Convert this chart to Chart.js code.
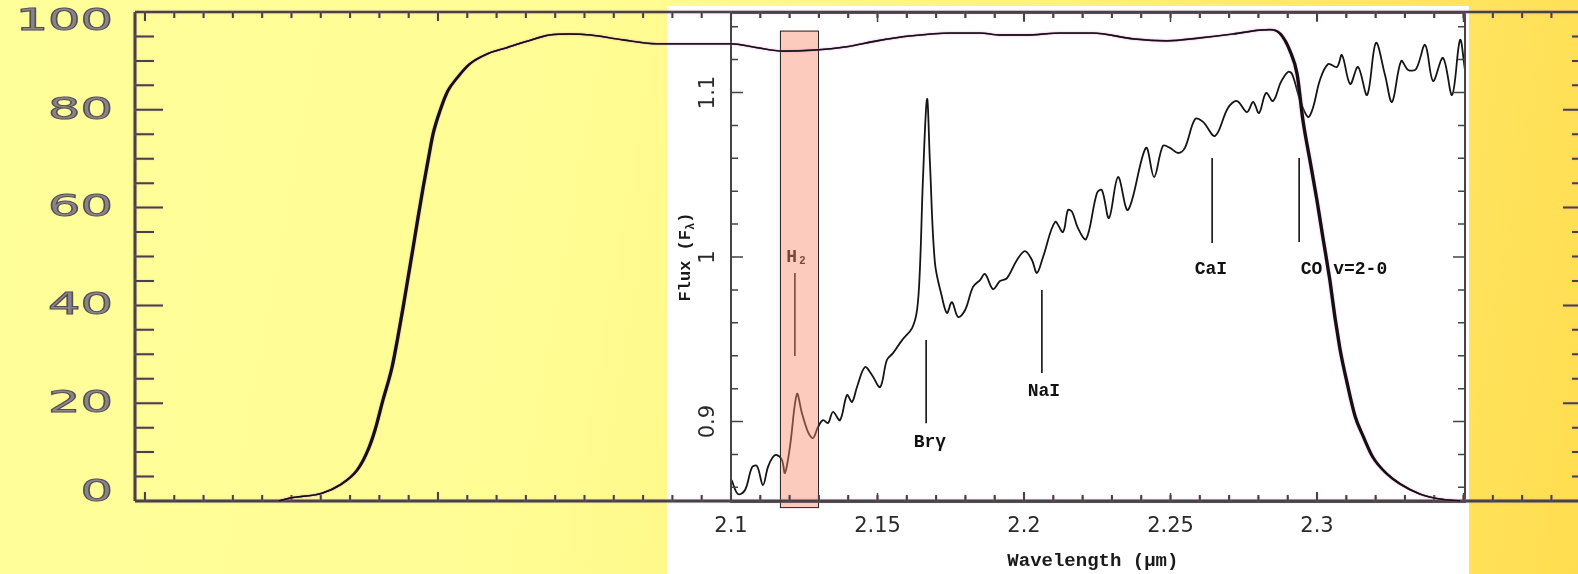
<!DOCTYPE html>
<html>
<head>
<meta charset="utf-8">
<script src="https://cdn.jsdelivr.net/npm/chart.js@4.4.1/dist/chart.umd.min.js"></script>
<style>
  html, body { margin: 0; padding: 0; width: 1578px; height: 574px; overflow: hidden; }
  #fundo { position: absolute; left: 0; top: 0; width: 1578px; height: 574px;
    background: linear-gradient(100deg, #ffff9a 0%, #fffd94 35%, #fff27c 62%, #ffe766 82%, #ffdd50 100%); }
  #painel { position: absolute; left: 667px; top: 6px; width: 802px; height: 568px; background: #fff; }
  #espectro { position: absolute; left: 667px; top: 6px; }
  #filtro { position: absolute; left: 0; top: 0; }
</style>
</head>
<body>
<div id="fundo"></div>
<div id="painel"></div>
<canvas id="espectro" width="802" height="568"></canvas>
<canvas id="filtro" width="1600" height="574"></canvas>
<script>
// curva de transmissao do filtro: comprimento de onda (um) e transmissao (%)
const filtroLambda = [1.9457, 1.9495, 1.9604, 1.9666, 1.9724, 1.9761, 1.9785, 1.9812, 1.9843, 1.9863,
  1.9881, 1.9898, 1.9915, 1.9932, 1.9949, 1.9966, 1.9983, 2.0007, 2.0034, 2.0065,
  2.0109, 2.0167, 2.0235, 2.0304, 2.0382, 2.0451, 2.0519, 2.0631, 2.0747, 2.0870,
  2.1000, 2.1089, 2.1177, 2.1280, 2.1396, 2.1498, 2.1611, 2.1747, 2.1850, 2.1918,
  2.2010, 2.2123, 2.2235, 2.2372, 2.2488, 2.2601, 2.2713, 2.2805, 2.2840, 2.2874,
  2.2908, 2.2932, 2.2952, 2.2976, 2.3000, 2.3020, 2.3044, 2.3061, 2.3078, 2.3102,
  2.3130, 2.3157, 2.3191, 2.3239, 2.3283, 2.3352, 2.3420, 2.3488];
const filtroTransm = [0, 0.6, 1.6, 3.3, 6.3, 10.4, 14.5, 20.6, 27.3, 33.5,
  39.6, 45.7, 51.8, 58.0, 64.0, 69.6, 75.0, 79.8, 83.9, 86.5,
  89.4, 91.4, 92.7, 94.0, 95.3, 95.5, 95.3, 94.3, 93.5, 93.5,
  93.5, 92.7, 92.0, 92.2, 92.9, 94.1, 95.1, 95.7, 95.7, 95.3,
  95.3, 95.7, 95.7, 94.5, 94.1, 94.7, 95.5, 96.3, 96.4, 95.6,
  92.0, 87.3, 77.8, 69.6, 61.4, 53.9, 45.1, 37.6, 31.2, 24.3,
  17.3, 13.3, 8.9, 5.5, 3.5, 1.4, 0.4, 0];
const filtroRotulosY = [0, 20, 40, 60, 80, 100];

// espectro: comprimento de onda (um) e fluxo normalizado
const espLambda = [2.1002, 2.1024, 2.1048, 2.1072, 2.1089, 2.1109, 2.1126, 2.1143, 2.1157, 2.1174,
  2.1184, 2.1201, 2.1225, 2.1242, 2.1263, 2.1280, 2.1297, 2.1314, 2.1331, 2.1348,
  2.1372, 2.1396, 2.1413, 2.1430, 2.1457, 2.1481, 2.1509, 2.1532, 2.1553, 2.1584,
  2.1618, 2.1635, 2.1645, 2.1655, 2.1669, 2.1679, 2.1696, 2.1720, 2.1737, 2.1754,
  2.1775, 2.1799, 2.1826, 2.1850, 2.1867, 2.1894, 2.1918, 2.1942, 2.1976, 2.2003,
  2.2027, 2.2044, 2.2065, 2.2106, 2.2133, 2.2150, 2.2164, 2.2184, 2.2212, 2.2249,
  2.2266, 2.2290, 2.2321, 2.2355, 2.2416, 2.2444, 2.2474, 2.2498, 2.2526, 2.2549,
  2.2584, 2.2611, 2.2652, 2.2696, 2.2727, 2.2761, 2.2782, 2.2802, 2.2826, 2.2850,
  2.2877, 2.2901, 2.2915, 2.2942, 2.2969, 2.2986, 2.3010, 2.3038, 2.3068, 2.3085,
  2.3113, 2.3140, 2.3171, 2.3201, 2.3232, 2.3256, 2.3287, 2.3311, 2.3338, 2.3369,
  2.3396, 2.3430, 2.3461, 2.3488, 2.3505];
const espFluxo = [0.8644, 0.8559, 0.8584, 0.8723, 0.8729, 0.8614, 0.8723, 0.8784, 0.8796, 0.8766,
  0.8687, 0.8845, 0.9167, 0.9052, 0.8936, 0.8900, 0.8967, 0.9009, 0.8991, 0.9058,
  0.9009, 0.9161, 0.9119, 0.9210, 0.9331, 0.9283, 0.9210, 0.9374, 0.9416, 0.9495,
  0.9568, 0.9678, 0.9939, 1.0468, 1.0960, 1.0571, 0.9964, 0.9757, 0.9660, 0.9726,
  0.9635, 0.9678, 0.9818, 0.9860, 0.9897, 0.9805, 0.9854, 0.9872, 0.9982, 1.0036,
  0.9982, 0.9903, 1.0000, 1.0213, 1.0152, 1.0286, 1.0274, 1.0176, 1.0109, 1.0389,
  1.0407, 1.0237, 1.0486, 1.0286, 1.0663, 1.0486, 1.0675, 1.0663, 1.0632, 1.0663,
  1.0839, 1.0821, 1.0736, 1.0906, 1.0948, 1.0881, 1.0942, 1.0875, 1.0997, 1.0948,
  1.1064, 1.1125, 1.1112, 1.0954, 1.0851, 1.0906, 1.1076, 1.1173, 1.1155, 1.1228,
  1.1052, 1.1155, 1.0985, 1.1301, 1.1106, 1.0942, 1.1191, 1.1137, 1.1143, 1.1289,
  1.1070, 1.1210, 1.0985, 1.1319, 1.1137];
const espRotulosX = [2.1, 2.15, 2.2, 2.25, 2.3];
const espRotulosY = [0.9, 1, 1.1];

// linhas espectrais marcadas
const linhaNomes = ['H₂', 'Brγ', 'NaI', 'CaI', 'CO v=2-0'];
const linhaLambda = [2.1218, 2.1666, 2.2061, 2.2642, 2.2939];
const linhaTopo = [0.9903, 0.9495, 0.9800, 1.0602, 1.0602];
const linhaBase = [0.9398, 0.8990, 0.9295, 1.0085, 1.0091];
const rotuloLambda = [2.1225, 2.1679, 2.2068, 2.2638, 2.3092];
const rotuloFluxo = [1.0000, 0.8875, 0.9180, 0.9927, 0.9927];

// faixa do filtro estreito de H2
const faixaLambda = [2.1167, 2.1297];
const faixaFluxo = [0.848, 1.1376];

const pontos = (xs, ys) => xs.map((x, i) => ({ x, y: ys[i] }));

// eixos, marcas e rotulos do espectro
const eixosEspectro = {
  id: 'eixosEspectro',
  afterDatasetsDraw(chart) {
    const { ctx, chartArea: a, scales: { x, y } } = chart;
    ctx.save();

    // linhas e nomes
    ctx.strokeStyle = '#111';
    ctx.fillStyle = '#111';
    ctx.lineWidth = 1.6;
    ctx.font = 'bold 18px "Liberation Mono", "DejaVu Sans Mono"';
    ctx.textAlign = 'center';
    ctx.textBaseline = 'middle';
    linhaNomes.forEach((nome, i) => {
      const px = x.getPixelForValue(linhaLambda[i]);
      ctx.beginPath();
      ctx.moveTo(px, y.getPixelForValue(linhaTopo[i]));
      ctx.lineTo(px, y.getPixelForValue(linhaBase[i]));
      ctx.stroke();
      ctx.fillText(nome, x.getPixelForValue(rotuloLambda[i]), y.getPixelForValue(rotuloFluxo[i]));
    });

    // moldura e marcas
    ctx.strokeStyle = '#444';
    ctx.lineWidth = 2;
    ctx.strokeRect(a.left, a.top, a.right - a.left, a.bottom - a.top);
    ctx.lineWidth = 1.5;
    ctx.beginPath();
    for (let v = 210; v <= 235; v++) {
      const px = x.getPixelForValue(v / 100);
      const t = v % 5 === 0 ? 9 : 5;
      ctx.moveTo(px, a.bottom); ctx.lineTo(px, a.bottom - t);
      ctx.moveTo(px, a.top); ctx.lineTo(px, a.top + t);
    }
    for (let v = 86; v <= 114; v += 2) {
      const py = y.getPixelForValue(v / 100);
      const t = v % 10 === 0 ? 12 : 7;
      ctx.moveTo(a.left, py); ctx.lineTo(a.left + t, py);
      ctx.moveTo(a.right, py); ctx.lineTo(a.right - t, py);
    }
    ctx.stroke();

    // rotulos dos eixos
    ctx.fillStyle = '#2a2a2a';
    ctx.font = '21px "DejaVu Sans"';
    espRotulosX.forEach(v => ctx.fillText(String(v), x.getPixelForValue(v), a.bottom + 25));
    espRotulosY.forEach(v => {
      ctx.save();
      ctx.translate(a.left - 22, y.getPixelForValue(v));
      ctx.rotate(-Math.PI / 2);
      ctx.fillText(String(v), 0, 0);
      ctx.restore();
    });

    ctx.fillStyle = '#1a1a1a';
    ctx.font = 'bold 19px "Liberation Mono", "DejaVu Sans Mono"';
    ctx.fillText('Wavelength (μm)', x.getPixelForValue(2.2235), a.bottom + 59);

    // titulo vertical com indice
    ctx.save();
    ctx.translate(a.left - 45, y.getPixelForValue(1));
    ctx.rotate(-Math.PI / 2);
    ctx.textAlign = 'left';
    const grande = 'bold 17px "Liberation Mono", "DejaVu Sans Mono"';
    const pequeno = 'bold 12px "Liberation Mono", "DejaVu Sans Mono"';
    ctx.font = grande;
    const w1 = ctx.measureText('Flux (F').width, w3 = ctx.measureText(')').width;
    ctx.font = pequeno;
    const w2 = ctx.measureText('λ').width;
    let sx = -(w1 + w2 + w3) / 2;
    ctx.font = grande; ctx.fillText('Flux (F', sx, 0); sx += w1;
    ctx.font = pequeno; ctx.fillText('λ', sx, 5); sx += w2;
    ctx.font = grande; ctx.fillText(')', sx, 0);
    ctx.restore();

    // faixa de H2 por cima
    const fx1 = x.getPixelForValue(faixaLambda[0]), fx2 = x.getPixelForValue(faixaLambda[1]);
    const fy1 = y.getPixelForValue(faixaFluxo[1]), fy2 = y.getPixelForValue(faixaFluxo[0]);
    ctx.fillStyle = 'rgba(248, 140, 108, 0.45)';
    ctx.fillRect(fx1, fy1, fx2 - fx1, fy2 - fy1);
    ctx.strokeStyle = '#222';
    ctx.lineWidth = 1;
    ctx.strokeRect(fx1 + 0.5, fy1 + 0.5, fx2 - fx1, fy2 - fy1);
    ctx.restore();
  }
};

new Chart(document.getElementById('espectro'), {
  type: 'line',
  data: {
    datasets: [{
      data: pontos(espLambda, espFluxo),
      borderColor: '#151515',
      borderWidth: 1.8,
      pointRadius: 0,
      tension: 0.35,
      fill: false
    }]
  },
  options: {
    responsive: false,
    animation: false,
    events: [],
    layout: { padding: { left: 64, top: 7, right: 4, bottom: 72 } },
    scales: {
      x: { type: 'linear', min: 2.1, max: 2.3505, display: false },
      y: { min: 0.8511, max: 1.1483, display: false }
    },
    plugins: { legend: { display: false }, tooltip: { enabled: false } }
  },
  plugins: [eixosEspectro]
});

// eixos do grafico do filtro (com o halo rosado do original)
const eixosFiltro = {
  id: 'eixosFiltro',
  beforeDatasetsDraw(chart) {
    const { ctx, chartArea: a, scales: { x, y } } = chart;
    ctx.save();
    ctx.shadowColor = 'rgba(240, 140, 215, 0.55)';
    ctx.shadowBlur = 2;
    ctx.strokeStyle = '#444';
    ctx.lineWidth = 3;
    ctx.beginPath();
    ctx.moveTo(a.left, a.top); ctx.lineTo(a.left, a.bottom);
    ctx.moveTo(a.left, a.bottom); ctx.lineTo(a.right, a.bottom);
    ctx.moveTo(a.right, a.top); ctx.lineTo(a.right, a.bottom);
    ctx.stroke();
    ctx.lineWidth = 2.5;
    ctx.beginPath();
    ctx.moveTo(a.left, a.top); ctx.lineTo(a.right, a.top);
    ctx.stroke();

    ctx.lineWidth = 2;
    ctx.beginPath();
    for (let v = 190; v <= 239; v++) {
      const px = x.getPixelForValue(v / 100);
      const t = v % 10 === 0 ? 9 : 6;
      ctx.moveTo(px, a.bottom); ctx.lineTo(px, a.bottom - t);
      ctx.moveTo(px, a.top); ctx.lineTo(px, a.top + t);
    }
    for (let v = 5; v < 100; v += 5) {
      const py = y.getPixelForValue(v);
      const t = v % 20 === 0 ? 28 : 19;
      ctx.moveTo(a.left, py); ctx.lineTo(a.left + t, py);
      ctx.moveTo(a.right, py); ctx.lineTo(a.right - t, py);
    }
    ctx.stroke();

    ctx.shadowColor = 'rgba(240, 160, 220, 0.5)';
    ctx.shadowBlur = 1;
    ctx.font = '30px "DejaVu Sans"';
    ctx.textAlign = 'right';
    ctx.textBaseline = 'middle';
    ctx.fillStyle = '#858585';
    ctx.strokeStyle = '#505050';
    ctx.lineWidth = 1;
    filtroRotulosY.forEach(v => {
      let py = y.getPixelForValue(v) + 1;
      py = Math.min(Math.max(py, a.top + 10), a.bottom - 8);
      ctx.save();
      ctx.translate(a.left - 22, py);
      ctx.scale(1.7, 1);
      ctx.fillText(String(v), 0, 0);
      ctx.strokeText(String(v), 0, 0);
      ctx.restore();
    });
    ctx.restore();

    ctx.save();
    ctx.shadowColor = 'rgba(240, 140, 215, 0.6)';
    ctx.shadowBlur = 2;
  },
  afterDatasetsDraw(chart) {
    // a curva original foi esticada na horizontal: reforca o traco com caneta eliptica
    const { ctx } = chart;
    const pts = chart.getDatasetMeta(0).data;
    ctx.beginPath();
    pts.forEach((p, i) => {
      if (i === 0) { ctx.moveTo(p.x, p.y); return; }
      const q = pts[i - 1];
      ctx.bezierCurveTo(q.cp2x, q.cp2y, p.cp1x, p.cp1y, p.x, p.y);
    });
    ctx.setTransform(2.6, 0, 0, 1, 0, 0);
    ctx.lineWidth = 1.3;
    ctx.strokeStyle = '#111';
    ctx.stroke();
    ctx.restore();
  }
};

new Chart(document.getElementById('filtro'), {
  type: 'line',
  data: {
    datasets: [{
      data: pontos(filtroLambda, filtroTransm),
      borderColor: '#111',
      borderWidth: 1.6,
      pointRadius: 0,
      cubicInterpolationMode: 'monotone',
      fill: false
    }]
  },
  options: {
    responsive: false,
    animation: false,
    events: [],
    layout: { padding: { left: 135, top: 12, right: 9, bottom: 73 } },
    scales: {
      x: { type: 'linear', min: 1.8966, max: 2.3935, display: false },
      y: { min: 0, max: 100, display: false }
    },
    plugins: { legend: { display: false }, tooltip: { enabled: false } }
  },
  plugins: [eixosFiltro]
});
</script>
</body>
</html>
